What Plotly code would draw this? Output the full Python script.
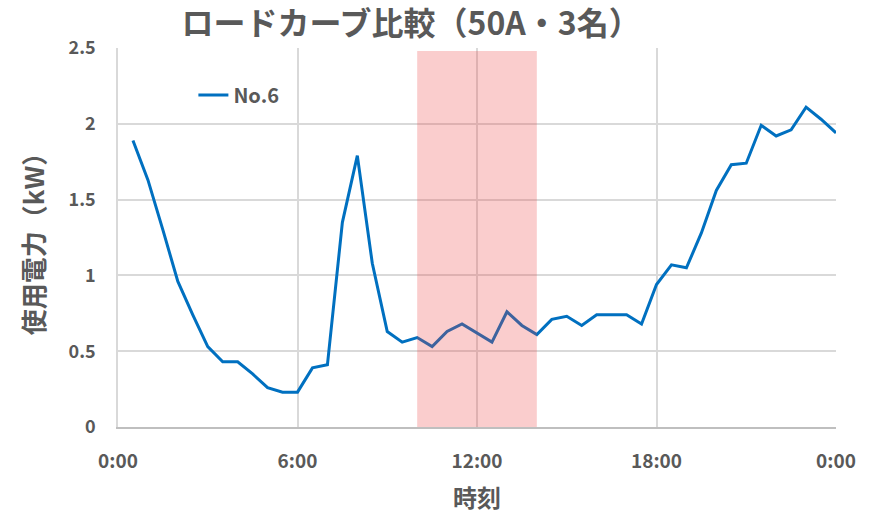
import plotly.graph_objects as go

# Time of day in hours (30-minute intervals, 0:30 .. 24:00)
hours = [0.5, 1.0, 1.5, 2.0, 2.5, 3.0, 3.5, 4.0, 4.5, 5.0, 5.5, 6.0,
         6.5, 7.0, 7.5, 8.0, 8.5, 9.0, 9.5, 10.0, 10.5, 11.0, 11.5, 12.0,
         12.5, 13.0, 13.5, 14.0, 14.5, 15.0, 15.5, 16.0, 16.5, 17.0, 17.5, 18.0,
         18.5, 19.0, 19.5, 20.0, 20.5, 21.0, 21.5, 22.0, 22.5, 23.0, 23.5, 24.0]

# Power consumption No.6 (kW)
no6 = [1.89, 1.63, 1.30, 0.96, 0.74, 0.53, 0.43, 0.43, 0.35, 0.26, 0.23, 0.23,
       0.39, 0.41, 1.35, 1.79, 1.08, 0.63, 0.56, 0.59, 0.53, 0.63, 0.68, 0.62,
       0.56, 0.76, 0.67, 0.61, 0.71, 0.73, 0.67, 0.74, 0.74, 0.74, 0.68, 0.94,
       1.07, 1.05, 1.28, 1.56, 1.73, 1.74, 1.99, 1.92, 1.96, 2.11, 2.03, 1.94]

tick_vals = [0, 6, 12, 18, 24]
tick_text = ["0:00", "6:00", "12:00", "18:00", "0:00"]
y_tick_vals = [0, 0.5, 1, 1.5, 2, 2.5]
y_tick_text = ["0", "0.5", "1", "1.5", "2", "2.5"]

shade_start = 10
shade_end = 14
shade_top = 2.48

title_text = "ロードカーブ比較（50A・3名）"
series_name = "No.6"

FONT = "Noto Sans CJK JP"
GREY = "#595959"

fig = go.Figure()
fig.add_trace(go.Scatter(
    x=hours, y=no6, mode="lines", name=series_name,
    line=dict(color="#0070C0", width=3),
))

# shaded time band (drawn above the line, semi-transparent)
fig.add_shape(type="rect", xref="x", yref="y",
              x0=shade_start, x1=shade_end, y0=0, y1=shade_top,
              fillcolor="rgba(235,60,60,0.26)", line=dict(width=0),
              layer="above")

# white legend background box
fig.add_shape(type="rect", xref="paper", yref="paper",
              x0=0.044, x1=0.252, y0=0.755, y1=1.0,
              fillcolor="white", line=dict(width=0), layer="between")

fig.update_layout(
    width=871, height=518,
    margin=dict(l=117.5, r=35.3, t=48, b=91),
    paper_bgcolor="white", plot_bgcolor="white",
    font=dict(family=FONT, color=GREY),
    title=dict(text="<b>" + title_text + "</b>", x=0.472, xanchor="center",
               xref="container", y=0.955, yref="container", yanchor="middle",
               font=dict(size=32, color=GREY, family=FONT)),
    showlegend=True,
    legend=dict(x=0.105, y=0.876, xanchor="left", yanchor="middle",
                bgcolor="rgba(0,0,0,0)",
                font=dict(size=20, color=GREY, family=FONT, weight="bold")),
    xaxis=dict(range=[0, 24], tickvals=tick_vals, ticktext=tick_text,
               automargin=False,
               showgrid=True, gridcolor="#d9d9d9", gridwidth=1.5,
               showline=True, linecolor="#bfbfbf", linewidth=2,
               zeroline=False, ticks="", ticklabelstandoff=16,
               tickfont=dict(size=19, color=GREY, family=FONT, weight="bold"),
               title=dict(text="<b>時刻</b>", standoff=18,
                          font=dict(size=24, color=GREY, family=FONT))),
    yaxis=dict(range=[0, 2.5], tickvals=y_tick_vals, ticktext=y_tick_text,
               automargin=False,
               showgrid=True, gridcolor="#d9d9d9", gridwidth=1.5,
               showline=True, linecolor="#d9d9d9", linewidth=1.5,
               zeroline=False, ticks="", ticklabelstandoff=17,
               tickfont=dict(size=18, color=GREY, family=FONT, weight="bold"),
               title=dict(text="<b>使用電力（kW）</b>", standoff=16,
                          font=dict(size=26, color=GREY, family=FONT))),
)

# remove the default 8px page margin so the figure fills the window exactly
fig.write_html("out.html", config={"displayModeBar": False},
               post_script="document.body.style.margin='0';")
